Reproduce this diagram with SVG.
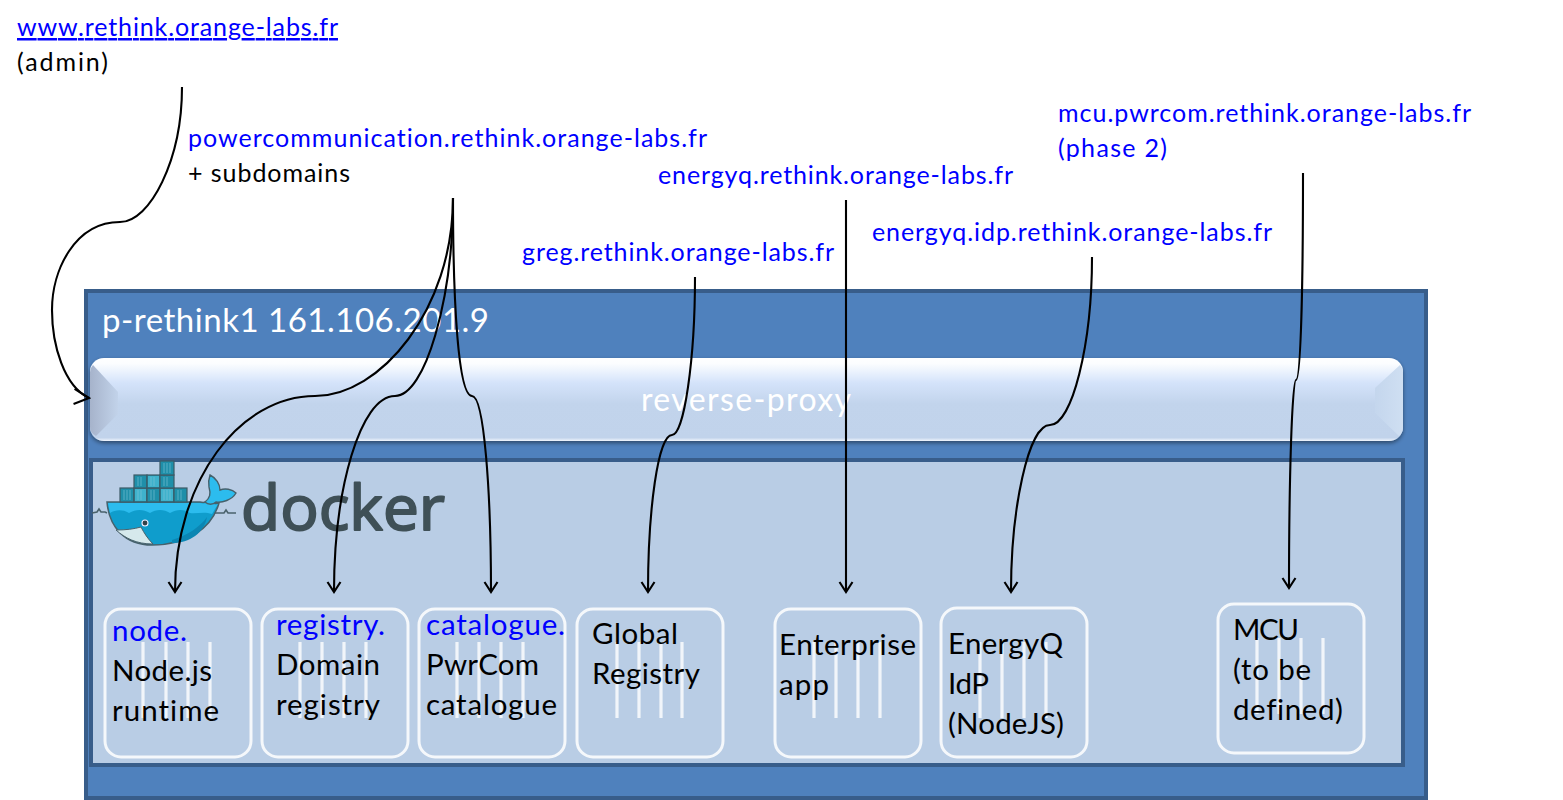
<svg xmlns="http://www.w3.org/2000/svg" width="1563" height="800" viewBox="0 0 1563 800">
<style>
text{font-family:"Lato","Carlito","Open Sans",sans-serif;font-variant-ligatures:none}
.t{font-size:25px;fill:#000}
.b{font-size:25px;fill:#0000ff}
.n{font-size:29.5px;fill:#000}
.nb{font-size:29.5px;fill:#0000ff}
.box{fill:none;stroke:#fff;stroke-width:3;stroke-opacity:.85}
.bar{stroke:#fff;stroke-width:3.2;stroke-opacity:.8}
.c{fill:none;stroke:#000;stroke-width:2.1;marker-end:url(#a)}
.cn{fill:#1f8fa9;stroke:#3d5a66;stroke-width:1.2}
.cl{fill:#3fb2cc}
.st{stroke:#7cc4d6;stroke-width:.8;fill:none;opacity:.8}
</style>
<defs>
<marker id="a" viewBox="-12 -8 14 16" markerWidth="14" markerHeight="16" refX="0" refY="0" orient="auto" markerUnits="userSpaceOnUse"><path d="M-10,-6.5 L0,0 L-10,6.5" fill="none" stroke="#000" stroke-width="2.1"/></marker>
<marker id="a2" viewBox="-17 -10 19 20" markerWidth="19" markerHeight="20" refX="0" refY="0" orient="4" markerUnits="userSpaceOnUse"><path d="M-15,-8 L0,0 L-15,7" fill="none" stroke="#000" stroke-width="2.1"/></marker>
<linearGradient id="g" x1="0" y1="0" x2="0" y2="1"><stop offset="0" stop-color="#fff"/><stop offset=".07" stop-color="#fbfdff"/><stop offset=".3" stop-color="#d4e3fa"/><stop offset=".55" stop-color="#c2d4ec"/><stop offset=".96" stop-color="#c1d3eb"/><stop offset="1" stop-color="#f0f5fc"/></linearGradient>
<linearGradient id="gl" x1="0" y1="0" x2="1" y2="0"><stop offset="0" stop-color="#a6b3cb"/><stop offset="1" stop-color="#c2d3ea"/></linearGradient>
<linearGradient id="gr" x1="0" y1="0" x2="1" y2="0"><stop offset="0" stop-color="#c4d6ed"/><stop offset="1" stop-color="#cfdff2"/></linearGradient>
<filter id="s" x="-2%" y="-10%" width="104%" height="125%"><feGaussianBlur in="SourceAlpha" stdDeviation="2"/><feOffset dy="2"/><feComponentTransfer><feFuncA type="linear" slope=".45"/></feComponentTransfer><feMerge><feMergeNode/><feMergeNode in="SourceGraphic"/></feMerge></filter>
</defs>
<rect width="1563" height="800" fill="#fff"/>
<g id="host">
<rect x="86" y="291" width="1340" height="507" fill="#4f81bd" stroke="#385d8a" stroke-width="4"/>
<text x="102" y="332" font-size="33" fill="#fff" textLength="387">p-rethink1 161.106.201.9</text>
</g>
<g id="reverse-proxy">
<rect x="90" y="358" width="1313" height="83" rx="14" fill="url(#g)" filter="url(#s)"/>
<path d="M93,365 L118,392 V414 L96,436 Q90,433 90,427 V372 Q90,368 93,365Z" fill="url(#gl)"/>
<path d="M1400,365 L1375,388 V413 L1399,436 Q1403,433 1403,427 V372 Q1403,368 1400,365Z" fill="url(#gr)"/>
<text x="641" y="411" font-size="32" fill="#fff" textLength="210">reverse-proxy</text>
</g>
<g id="docker-host">
<rect x="91" y="460" width="1312" height="305" fill="#b9cde5" stroke="#385d8a" stroke-width="4"/>
</g>
<g id="docker-logo">
<path d="M92,513 L97,512 L99,509 L101,512 L105,512 L107,513 M205,513 L224,513 L226,510 L228,513 L236,513" stroke="#4a626c" stroke-width="1.6" fill="none"/>
<path d="M107,502 H200 C204,503 207,502 209,500 C211,504 216,504 219,503 C212,528 188,545 152,545 C125,545 109,527 107,502Z" fill="#0f9dcc" stroke="#46616c" stroke-width="1.5"/>
<path d="M108,503 H200 C204,504 208,503 210,501 C212,504 215,505 218,504 L212,514 C204,511 197,514 190,513 C184,509 177,509 170,513 C164,509 156,509 150,513 C143,509 136,509 129,513 C122,509 115,510 110,513Z" fill="#2cbcee"/>
<path d="M172,540 C188,535 200,527 207,517 C204,533 190,543 172,543Z" fill="#0b86b3"/>
<path d="M116,530 C126,530 134,529 141,527 C144,533 148,539 153,544 C136,544 125,538 116,530Z" fill="#d6e9ec" stroke="#4a626c" stroke-width="1"/>
<circle cx="145" cy="523" r="3" fill="#33434a" stroke="#eef" stroke-width="1.1"/>
<path d="M205,502 C210,498 211,494 209,487 C208,482 209,478 210,475 C216,478 220,484 220,490 C225,488 232,489 236,493 C232,500 222,503 216,502 C213,505 208,505 205,502Z" fill="#2cbcee" stroke="#46616c" stroke-width="1.4"/>
<g class="cn"><rect x="120" y="488" width="14" height="14"/><rect x="134" y="488" width="13" height="14"/><rect x="147" y="488" width="13" height="14"/><rect x="160" y="488" width="14" height="14"/><rect x="174" y="488" width="13" height="14"/><rect x="134" y="475" width="13" height="13"/><rect x="147" y="475" width="13" height="13"/><rect x="160" y="475" width="14" height="13"/><rect x="160" y="461" width="14" height="14"/></g>
<g class="cl"><rect x="135" y="489" width="11" height="12"/><rect x="161" y="489" width="12" height="12"/><rect x="148" y="476" width="11" height="11"/></g>
<path class="st" d="M124,490V500M127,490V500M130,490V500M138,490V500M141,490V500M151,490V500M154,490V500M164,490V500M167,490V500M170,490V500M178,490V500M181,490V500M138,477V486M141,477V486M151,477V486M154,477V486M164,477V486M167,477V486M164,463V473M167,463V473M170,463V473"/>
<text x="241" y="530" style="font-family:'Open Sans',sans-serif" font-size="63" fill="#3f5057" stroke="#3f5057" stroke-width="2" stroke-linejoin="round" textLength="204" lengthAdjust="spacingAndGlyphs">docker</text>
</g>
<g id="node-1"><rect class="box" x="105" y="609" width="146" height="148" rx="16"/><path class="bar" d="M143,642V718M166,642V718M188,642V718M210,642V718"/><text class="nb" x="112" y="641" textLength="75">node.</text><text class="n" x="112" y="681" textLength="100">Node.js</text><text class="n" x="112" y="721" textLength="107">runtime</text></g>
<g id="node-2"><rect class="box" x="262" y="609" width="146" height="148" rx="16"/><path class="bar" d="M300,642V718M322,642V718M344,642V718M366,642V718"/><text class="nb" x="276" y="635" textLength="109">registry.</text><text class="n" x="276" y="675" textLength="104">Domain</text><text class="n" x="276" y="715" textLength="104">registry</text></g>
<g id="node-3"><rect class="box" x="419" y="609" width="146" height="148" rx="16"/><path class="bar" d="M457,642V718M479,642V718M501,642V718M523,642V718"/><text class="nb" x="426" y="635" textLength="139">catalogue.</text><text class="n" x="426" y="675" textLength="113">PwrCom</text><text class="n" x="426" y="715" textLength="131">catalogue</text></g>
<g id="node-4"><rect class="box" x="577" y="609" width="146" height="148" rx="16"/><path class="bar" d="M617,642V718M639,642V718M661,642V718M682,642V718"/><text class="n" x="592" y="644" textLength="86">Global</text><text class="n" x="592" y="684" textLength="108">Registry</text></g>
<g id="node-5"><rect class="box" x="775" y="609" width="146" height="148" rx="16"/><path class="bar" d="M814,642V718M836,642V718M858,642V718M880,642V718"/><text class="n" x="779" y="655" textLength="137">Enterprise</text><text class="n" x="779" y="695" textLength="50">app</text></g>
<g id="node-6"><rect class="box" x="941" y="608" width="146" height="149" rx="16"/><path class="bar" d="M980,642V718M1002,642V718M1024,642V718M1046,642V718"/><text class="n" x="948" y="654" textLength="115">EnergyQ</text><text class="n" x="948" y="694" textLength="41">IdP</text><text class="n" x="948" y="734" textLength="116">(NodeJS)</text></g>
<g id="node-7"><rect class="box" x="1218" y="604" width="146" height="149" rx="16"/><path class="bar" d="M1257,638V714M1279,638V714M1301,638V714M1323,638V714"/><text class="n" x="1233" y="640" textLength="66">MCU</text><text class="n" x="1233" y="680" textLength="78">(to be</text><text class="n" x="1233" y="720" textLength="110">defined)</text></g>
<g id="labels">
<a href="http://www.rethink.orange-labs.fr"><text class="b" x="17" y="36" text-decoration="underline" textLength="321">www.rethink.orange-labs.fr</text></a>
<text class="t" x="17" y="71" textLength="91">(admin)</text>
<text class="b" x="188" y="147" textLength="519">powercommunication.rethink.orange-labs.fr</text>
<text class="t" x="188" y="182" textLength="162">+ subdomains</text>
<text class="b" x="658" y="184" textLength="355">energyq.rethink.orange-labs.fr</text>
<text class="b" x="522" y="261" textLength="312">greg.rethink.orange-labs.fr</text>
<text class="b" x="872" y="241" textLength="400">energyq.idp.rethink.orange-labs.fr</text>
<text class="b" x="1058" y="122" textLength="413">mcu.pwrcom.rethink.orange-labs.fr</text>
<text class="b" x="1058" y="157" textLength="109">(phase 2)</text>
</g>
<g id="connectors">
<path class="c" style="marker-end:url(#a2)" d="M182,87 C182,160 150,222 120,222 C75,222 52,270 52,310 C52,345 64,386 89,398"/>
<path class="c" d="M453,198 C453,310 380,396 315,396 C240,396 175,480 175,592"/>
<path class="c" d="M453,198 C453,300 425,396 395,396 C360,396 334,490 334,592"/>
<path class="c" d="M453,198 C453,300 458,396 472,396 C484,396 491,490 491,592"/>
<path class="c" d="M695,277 C695,360 684,435 672,435 C658,435 648,510 648,592"/>
<path class="c" d="M846,200 V592"/>
<path class="c" d="M1092,257 C1092,345 1072,425 1050,425 C1028,425 1011,510 1011,592"/>
<path class="c" d="M1303,173 C1303,280 1301,380 1296,380 C1292,380 1289,480 1289,588"/>
</g>
</svg>
